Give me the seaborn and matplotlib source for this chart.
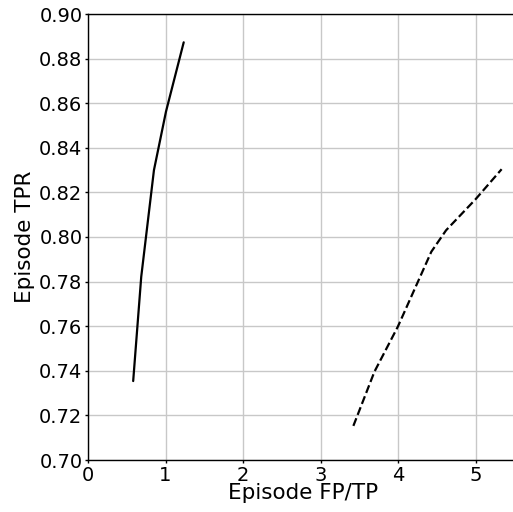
import matplotlib
matplotlib.use("Agg")
import matplotlib.pyplot as plt
import seaborn as sns
import pandas as pd

solid_x = [0.583, 0.687, 0.851, 1.006, 1.235]
solid_y = [0.7354, 0.7822, 0.830, 0.8562, 0.8873]
dashed_x = [3.424, 3.696, 3.998, 4.43, 4.62, 5.0, 5.337]
dashed_y = [0.7153, 0.7396, 0.7598, 0.7934, 0.803, 0.8169, 0.8304]

sns.set_style("white")
plt.rcParams['font.family'] = ['DejaVu Sans']
plt.rcParams['text.color'] = 'black'
plt.rcParams['axes.labelcolor'] = 'black'
plt.rcParams['xtick.color'] = 'black'
plt.rcParams['ytick.color'] = 'black'

fig = plt.figure(figsize=(5.13, 5.12), dpi=100)
ax = fig.add_axes([88/513, 52/512, 1 - 88/513 + 0.01, 446/512])

df1 = pd.DataFrame({"x": solid_x, "y": solid_y})
df2 = pd.DataFrame({"x": dashed_x, "y": dashed_y})
sns.lineplot(data=df1, x="x", y="y", ax=ax, color="black", linewidth=1.6, sort=False, estimator=None)
sns.lineplot(data=df2, x="x", y="y", ax=ax, color="black", linewidth=1.6, linestyle="--", sort=False, estimator=None)

ax.set_xlim(0, 5.55)
ax.set_ylim(0.70, 0.90)
ax.set_xticks([0, 1, 2, 3, 4, 5])
ax.set_yticks([0.70, 0.72, 0.74, 0.76, 0.78, 0.80, 0.82, 0.84, 0.86, 0.88, 0.90])
ax.set_yticklabels([f"{v:.2f}" for v in ax.get_yticks()])
ax.grid(True, color="#c8c8c8", linewidth=1.0)
ax.set_axisbelow(True)
for s in ax.spines.values():
    s.set_color("black")
    s.set_linewidth(1.0)
ax.tick_params(axis="both", labelsize=14, length=2, width=1, pad=2, color="black",
               labelcolor="black", left=True, bottom=True)
ax.set_xlabel("Episode FP/TP", fontsize=15.5, labelpad=-1, color="black")
ax.set_ylabel("Episode TPR", fontsize=15.5, labelpad=3, color="black")

fig.savefig("out.png", dpi=100)
